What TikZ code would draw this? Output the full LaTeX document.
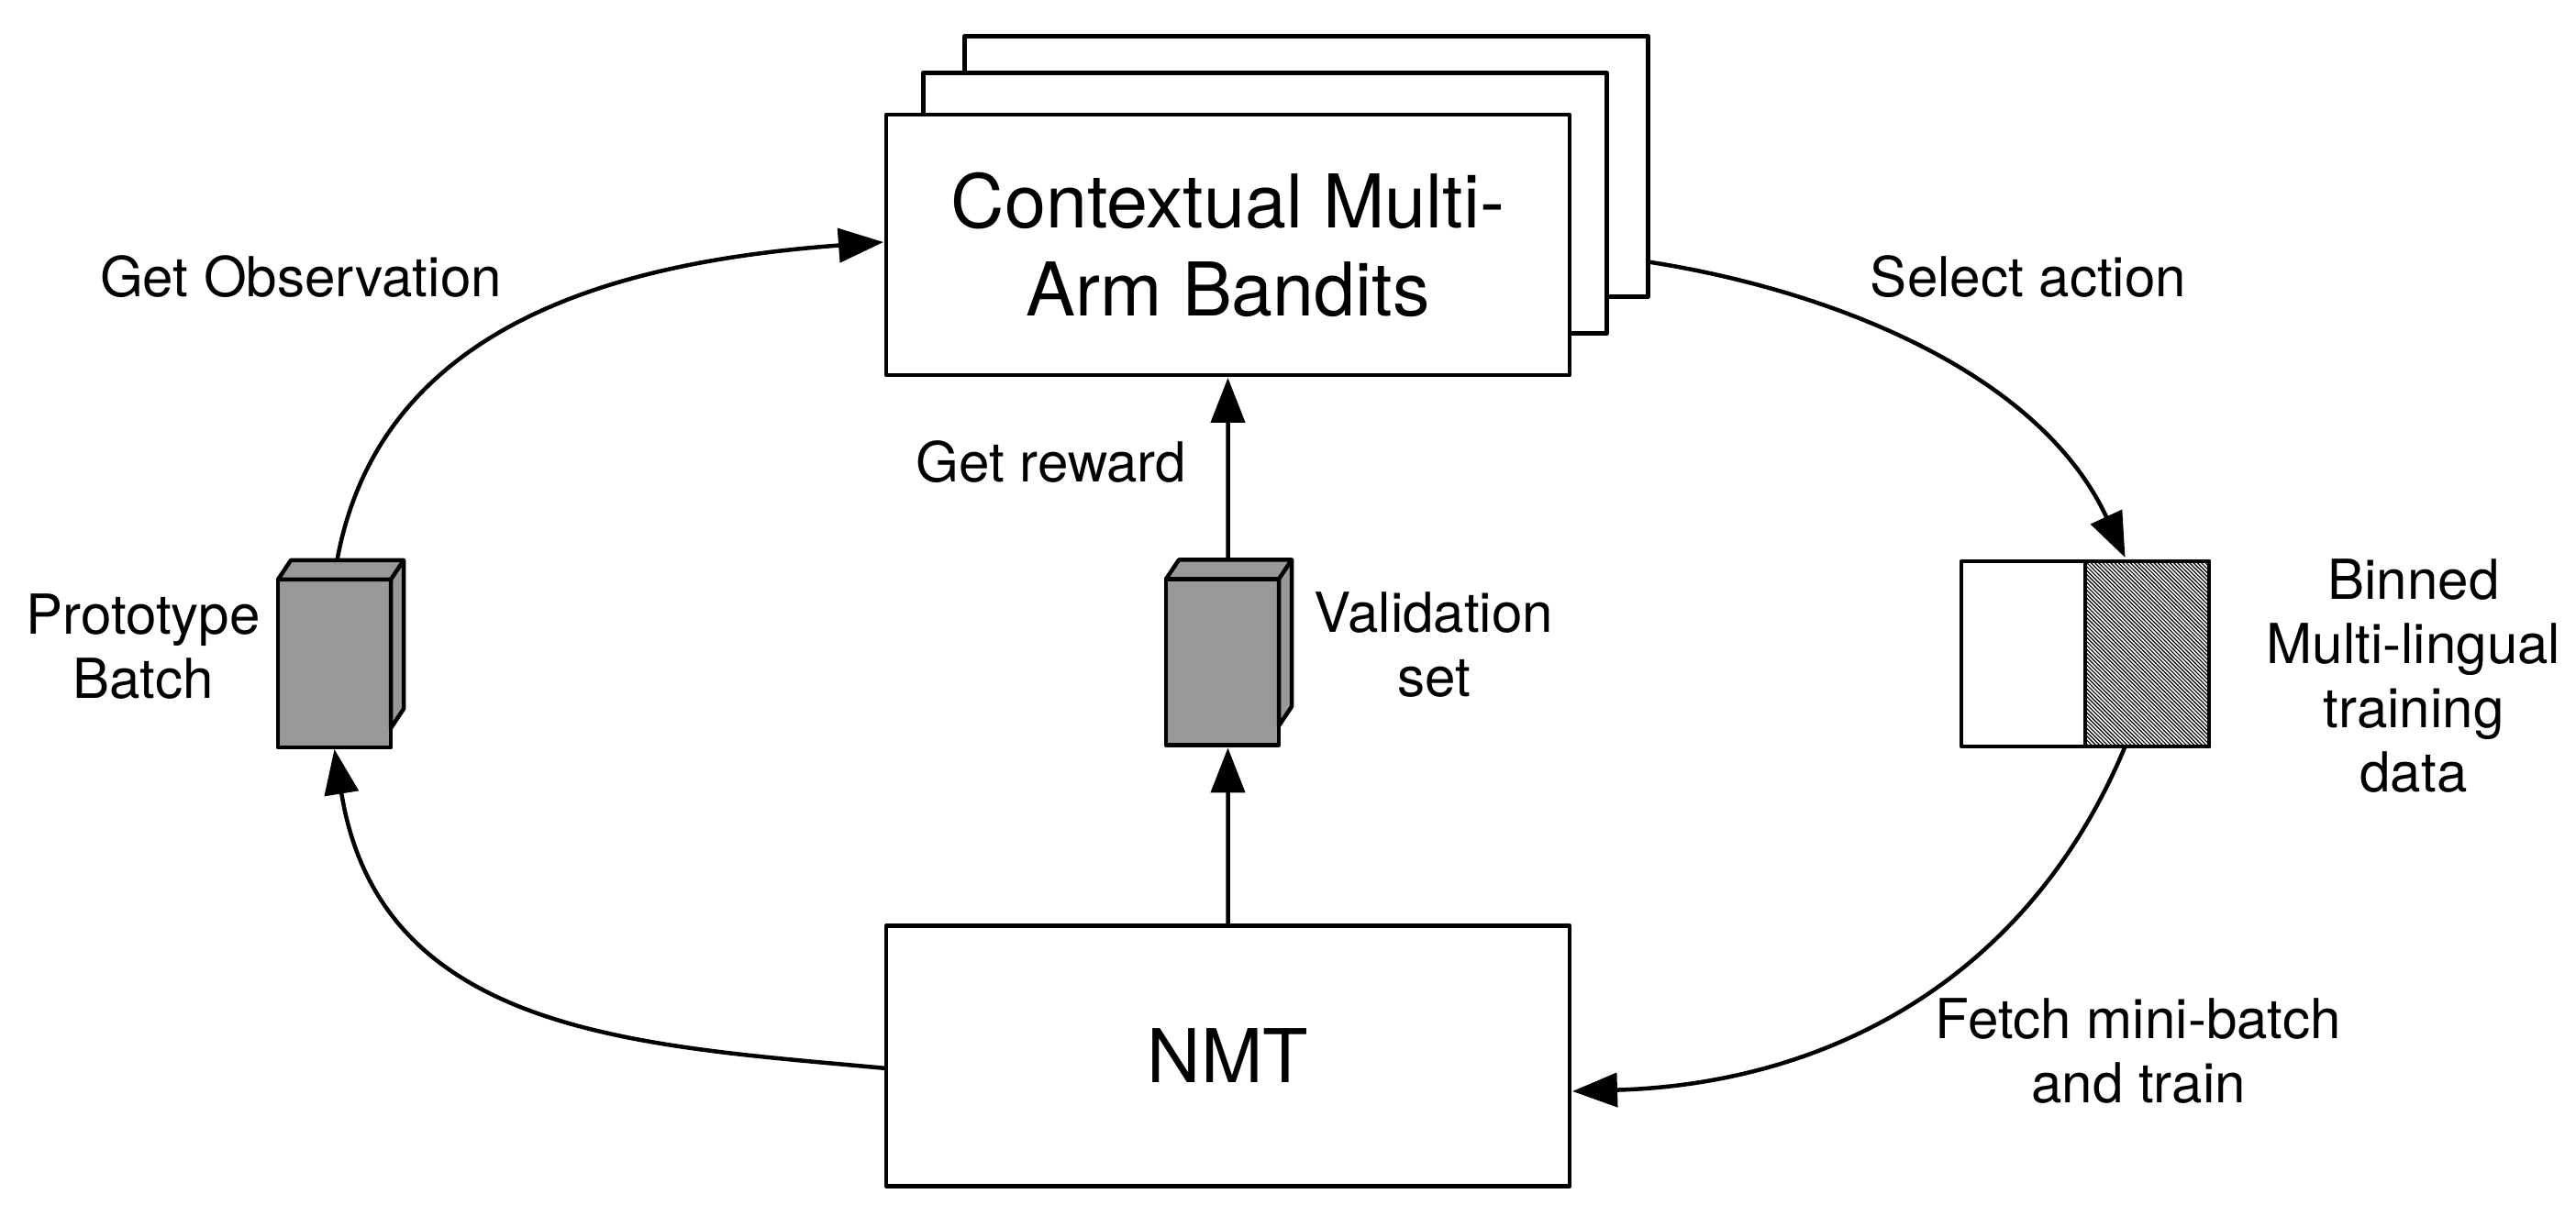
\documentclass[tikz,border=0pt]{standalone}
\usepackage{fontspec}
\setmainfont{TeX Gyre Heros}
\usetikzlibrary{calc, arrows.meta}

\definecolor{batchgray}{HTML}{999999}
\tikzset{
  bigbox/.style = {draw, fill=white, line width=1.28pt, line join=round, outer sep=0pt, minimum width=7.45cm, minimum height=2.84cm, align=center, font=\fontsize{23}{27.3}\selectfont},
  batchbox/.style = {draw, fill=batchgray, line width=1.28pt, line join=round, outer sep=0pt, inner sep=0pt, minimum width=1.23cm},
  batchside/.style = {draw, fill=batchgray, line width=1.28pt, line join=round},
  binbox/.style = {draw, line width=1.28pt, line join=round, outer sep=0pt, inner sep=0pt, minimum width=1.35cm, minimum height=2.02cm},
  lab/.style = {align=center, inner sep=0pt, font=\fontsize{17.1}{20}\selectfont},
  flow/.style = {line width=1.28pt, -{Triangle[length=0.49cm, width=0.37cm]}}
}

\begin{document}
\begin{tikzpicture}
      \useasboundingbox (0,0) rectangle (28.08,13.14);

      \node[bigbox] (armc) at (14.24,11.325) {};
      \node[bigbox] (armb) at (13.79,10.925) {};
      \node[bigbox] (bandits) at (13.385,10.47) {Contextual Multi-\\Arm Bandits};
      \node[bigbox] (nmt) at (13.385,1.625) {NMT};

      \node[batchbox, minimum height=1.83cm] (proto) at (3.645,5.905) {};
      \draw[batchside] (proto.north west) -- ++(0.14,0.21) -- ++(1.23,0) -- ++(0,-1.62) -- ++(-0.14,-0.21) -- ++(0,1.62) -- cycle;
      \draw[batchside] (proto.north east) -- ++(0.14,0.21);

      \node[batchbox, minimum height=1.81cm] (valid) at (13.325,5.92) {};
      \draw[batchside] (valid.north west) -- ++(0.14,0.21) -- ++(1.23,0) -- ++(0,-1.6) -- ++(-0.14,-0.21) -- ++(0,1.6) -- cycle;
      \draw[batchside] (valid.north east) -- ++(0.14,0.21);

      \node[binbox, fill=white] (binplain) at (22.055,6.01) {};
      \node[binbox, fill=white] (binhatch) at (23.405,6.01) {};
      \begin{scope}
        \clip (binhatch.south west) rectangle (binhatch.north east);
        \foreach \i in {0,...,78}
          \draw[line width=0.33pt] ($(binhatch.north west)+(\i*0.043-2.02,0)$) -- ++(2.02,-2.02);
      \end{scope}
      \draw[line width=1.28pt, line join=round] (binhatch.south west) rectangle (binhatch.north east);

      \node[lab] (getobs) at (3.28,10.12) {Get Observation};
      \node[lab] (selact) at (22.11,10.12) {Select action};
      \node[lab] (getrew) at (11.46,8.1) {Get reward};
      \node[lab] (protolab) at (1.56,6.09) {Prototype\\Batch};
      \node[lab] (validlab) at (15.63,6.11) {Validation\\set};
      \node[lab] (binlab) at (26.31,5.77) {Binned\\Multi-lingual\\training\\data};
      \node[lab] (fetch) at (23.31,1.68) {Fetch mini-batch\\and train};

      \draw[flow] ($(proto.north)+(0.03,0.21)$) .. controls (4.15,9.64) and (6.80,10.29) .. ([xshift=-0.03cm, yshift=0.03cm]bandits.west);
      \draw[flow] ($(armc.south east)+(0,0.38)$) .. controls (20.05,9.96) and (22.25,9.04) .. ([xshift=-0.24cm, yshift=0.04cm]binhatch.north);
      \draw[flow] ([xshift=-0.24cm]binhatch.south) .. controls (22.10,2.44) and (19.90,1.32) .. ([xshift=0.03cm, yshift=-0.385cm]nmt.east);
      \draw[flow] ([yshift=-0.135cm]nmt.west) .. controls (7.00,1.74) and (4.15,1.84) .. ([yshift=-0.02cm]proto.south);
      \draw[flow] ($(valid.north)+(0.06,0.21)$) -- ([yshift=-0.03cm]bandits.south);
      \draw[flow] (nmt.north) -- ([xshift=0.06cm, yshift=-0.03cm]valid.south);
    \end{tikzpicture}
\end{document}
